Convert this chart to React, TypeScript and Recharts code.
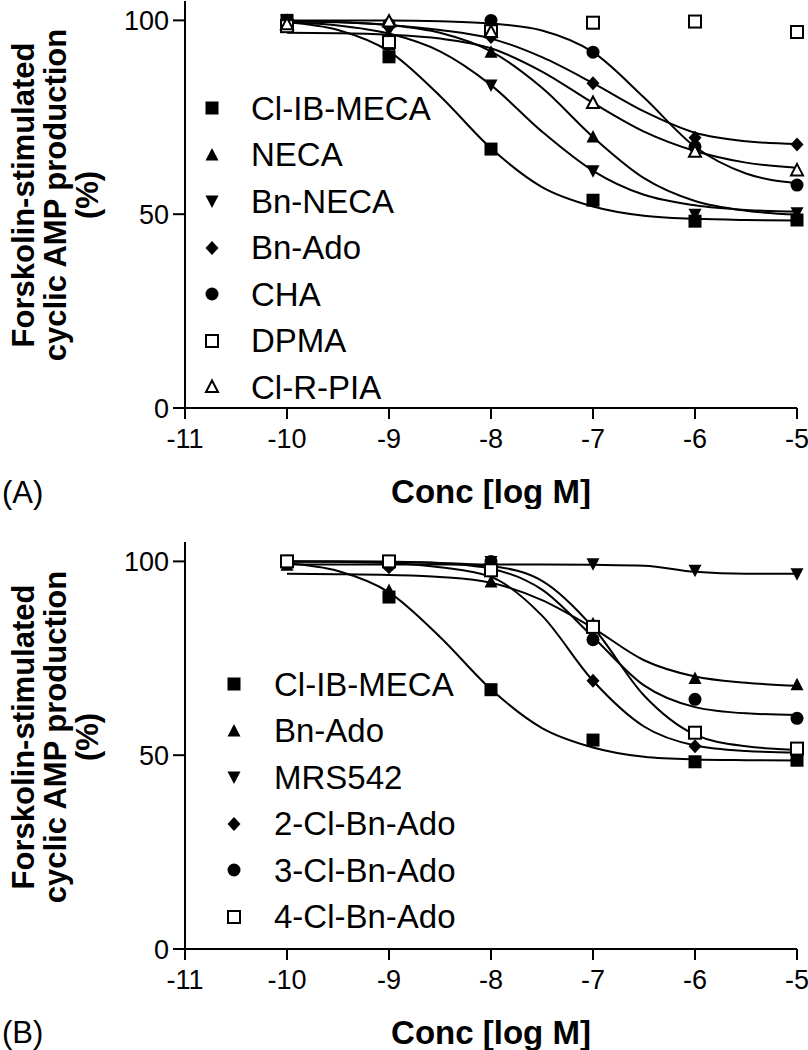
import React from "react";
import { ComposedChart, Line, Scatter, XAxis, YAxis, Legend } from "recharts";

const FONT = '"Liberation Sans", Arial, Helvetica, sans-serif';

const conc = [-10, -9, -8, -7, -6, -5];
const fitConc = [-10, -9.5, -9, -8.5, -8, -7.5, -7, -6.5, -6, -5.5, -5];
const xTicks = [-11, -10, -9, -8, -7, -6, -5];
const yTicks = [0, 50, 100];

// (A) measured points, % of forskolin response
const clIbMecaA = [100, 90.6, 66.8, 53.6, 48.2, 48.5];
const necaA = [100, 93.7, 91.8, 69.9, 49.5, 49.3];
const bnNecaA = [100, 97.5, 83.3, 61.2, 50.0, 50.4];
const bnAdoA = [100, 98.3, 95.7, 83.8, 69.7, 68.0];
const chaA = [100, 99.0, 100, 91.8, 67.4, 57.5];
const dpmaA = [98.5, 94.4, 97.2, 99.4, 99.7, 97.0];
const clRPiaA = [99.0, 99.7, 97.0, 78.7, 66.1, 61.3];

const clIbMecaFitA = [99.5, 97.5, 92, 80.5, 67, 57, 52, 49.6, 48.8, 48.5, 48.4];
const necaFitA = [99.9, 99.6, 98.8, 96.8, 92, 82.6, 69.9, 59.3, 53.4, 50.9, 49.9];
const bnNecaFitA = [99.5, 98.7, 96.6, 92, 83.3, 71.3, 61.2, 55, 52.3, 51.1, 50.7];
const bnAdoFitA = [99.8, 99.5, 98.8, 97.5, 95.3, 90.5, 83.8, 76.5, 71, 68.8, 68.1];
const chaFitA = [100, 100, 100, 99.8, 99.2, 97.4, 91.8, 80.1, 67.4, 60.5, 58];
const clRPiaFitA = [96.8, 96.7, 96.3, 95.3, 92.8, 86.8, 78.7, 71.3, 66.3, 63.3, 62];

// (B) measured points
const clIbMecaB = [100, 90.8, 66.9, 53.9, 48.3, 48.7];
const bnAdoB = [99, 92.5, 94.7, 83.9, 69.8, 68.2];
const mrs542B = [100, 99.0, 100, 99.4, 97.7, 96.8];
const cl2BnAdoB = [100, 98.5, 97.5, 69.2, 52.3, 50.4];
const cl3BnAdoB = [100, 99.0, 100, 79.8, 64.4, 59.5];
const cl4BnAdoB = [100, 100, 97.7, 83.1, 55.8, 51.7];

// (B) fitted curves
const clIbMecaFitB = [99.5, 97.5, 92, 80.5, 67, 57, 52, 49.6, 48.9, 48.7, 48.6];
const bnAdoFitB = [96.8, 96.7, 96.5, 96, 94.5, 90, 82.8, 74.5, 70.3, 68.7, 67.9];
const mrs542FitB = [99.2, 99.2, 99.2, 99.2, 99.2, 99.2, 99.1, 98.9, 97.3, 96.8, 96.8];
const cl2BnAdoFitB = [100, 99.9, 99.6, 98.5, 96, 86, 69.2, 57.4, 52.5, 51.1, 50.7];
const cl3BnAdoFitB = [100, 100, 99.9, 99.5, 98.1, 92.7, 80.5, 68, 62.4, 60.8, 60.4];
const cl4BnAdoFitB = [100, 100, 99.9, 99.6, 98.8, 95, 83, 65.4, 55.3, 52.3, 51.4];

type Kind =
  | "square"
  | "triangle"
  | "triangleDown"
  | "diamond"
  | "circle"
  | "openSquare"
  | "openTriangle";

type Series = { name: string; kind: Kind; pts: number[]; fit: number[] | null };

const seriesA: Series[] = [
  { name: "Cl-IB-MECA", kind: "square", pts: clIbMecaA, fit: clIbMecaFitA },
  { name: "NECA", kind: "triangle", pts: necaA, fit: necaFitA },
  { name: "Bn-NECA", kind: "triangleDown", pts: bnNecaA, fit: bnNecaFitA },
  { name: "Bn-Ado", kind: "diamond", pts: bnAdoA, fit: bnAdoFitA },
  { name: "CHA", kind: "circle", pts: chaA, fit: chaFitA },
  { name: "DPMA", kind: "openSquare", pts: dpmaA, fit: null },
  { name: "Cl-R-PIA", kind: "openTriangle", pts: clRPiaA, fit: clRPiaFitA },
];

const seriesB: Series[] = [
  { name: "Cl-IB-MECA", kind: "square", pts: clIbMecaB, fit: clIbMecaFitB },
  { name: "Bn-Ado", kind: "triangle", pts: bnAdoB, fit: bnAdoFitB },
  { name: "MRS542", kind: "triangleDown", pts: mrs542B, fit: mrs542FitB },
  { name: "2-Cl-Bn-Ado", kind: "diamond", pts: cl2BnAdoB, fit: cl2BnAdoFitB },
  { name: "3-Cl-Bn-Ado", kind: "circle", pts: cl3BnAdoB, fit: cl3BnAdoFitB },
  { name: "4-Cl-Bn-Ado", kind: "openSquare", pts: cl4BnAdoB, fit: cl4BnAdoFitB },
];

const PLOT_H = 407;

function Marker({ cx, cy, kind }: { cx?: number; cy?: number; kind: Kind }) {
  if (cx == null || cy == null) return null;
  switch (kind) {
    case "square":
      return <rect x={cx - 6.5} y={cy - 6.5} width={13} height={13} fill="#000" />;
    case "openSquare":
      return (
        <rect x={cx - 6} y={cy - 6} width={12} height={12} fill="#fff" stroke="#000" strokeWidth={2} />
      );
    case "triangle":
      return <polygon points={`${cx},${cy - 7} ${cx + 6.5},${cy + 5.5} ${cx - 6.5},${cy + 5.5}`} fill="#000" />;
    case "triangleDown":
      return <polygon points={`${cx},${cy + 7} ${cx + 6.5},${cy - 5.5} ${cx - 6.5},${cy - 5.5}`} fill="#000" />;
    case "openTriangle":
      return (
        <polygon
          points={`${cx},${cy - 6.5} ${cx + 6},${cy + 5} ${cx - 6},${cy + 5}`}
          fill="#fff"
          stroke="#000"
          strokeWidth={2}
        />
      );
    case "diamond":
      return <polygon points={`${cx},${cy - 7} ${cx + 6.5},${cy} ${cx},${cy + 7} ${cx - 6.5},${cy}`} fill="#000" />;
    case "circle":
      return <circle cx={cx} cy={cy} r={6.5} fill="#000" />;
  }
  return null;
}

function LegendBox({ series, gap }: { series: Series[]; gap: number }) {
  return (
    <div style={{ fontFamily: FONT }}>
      {series.map((s) => (
        <div key={s.name} style={{ display: "flex", alignItems: "center", height: 46.5 }}>
          <svg width={24} height={24}>
            <Marker cx={12} cy={12} kind={s.kind} />
          </svg>
          <span style={{ marginLeft: gap, fontSize: 33, lineHeight: 1, color: "#000" }}>{s.name}</span>
        </div>
      ))}
    </div>
  );
}

function Panel({
  series,
  height,
  top,
  legendLeft,
  legendTop,
  gap,
}: {
  series: Series[];
  height: number;
  top: number;
  legendLeft: number;
  legendTop: number;
  gap: number;
}) {
  const axisY = top + PLOT_H;
  return (
    <ComposedChart
      width={808}
      height={height}
      margin={{ top, right: 11, bottom: 0, left: 0 }}
      style={{ fontFamily: FONT }}
    >
      <XAxis
        dataKey="x"
        type="number"
        domain={[-11, -5]}
        ticks={xTicks}
        interval={0}
        height={height - axisY}
        stroke="#000"
        strokeWidth={2}
        tickSize={11}
        tick={(p: any) => (
          <text x={p.x} y={axisY + 40} textAnchor="middle" fontSize={27} fill="#000" fontFamily={FONT}>
            {p.payload.value}
          </text>
        )}
        label={{
          value: "Conc [log M]",
          position: "insideBottom",
          offset: 6,
          style: { fontSize: 33, fontWeight: 700, fill: "#000", fontFamily: FONT },
        }}
      />
      <YAxis
        dataKey="y"
        type="number"
        domain={[0, 105]}
        ticks={yTicks}
        interval={0}
        width={185}
        stroke="#000"
        strokeWidth={2}
        tickSize={12}
        tickMargin={4}
        tick={{ fill: "#000", fontSize: 27, fontFamily: FONT }}
      />
      <Legend
        layout="vertical"
        align="center"
        verticalAlign="middle"
        wrapperStyle={{ left: legendLeft, top: legendTop, width: 320 }}
        content={() => <LegendBox series={series} gap={gap} />}
      />
      {series
        .filter((s) => s.fit)
        .map((s) => (
          <Line
            key={"fit-" + s.name}
            data={fitConc.map((x, i) => ({ x, y: (s.fit as number[])[i] }))}
            dataKey="y"
            type="monotone"
            stroke="#000"
            strokeWidth={2}
            dot={false}
            activeDot={false}
            legendType="none"
            isAnimationActive={false}
          />
        ))}
      {series.map((s) => (
        <Scatter
          key={"pts-" + s.name}
          name={s.name}
          data={conc.map((x, i) => ({ x, y: s.pts[i] }))}
          dataKey="y"
          isAnimationActive={false}
          shape={(p: any) => <Marker cx={p.cx} cy={p.cy} kind={s.kind} />}
        />
      ))}
    </ComposedChart>
  );
}

function YTitle({ cy }: { cy: number }) {
  return (
    <div
      style={{
        position: "absolute",
        left: 56 - 200,
        top: cy - 48,
        width: 400,
        height: 96,
        lineHeight: "32px",
        fontSize: 31,
        fontWeight: 700,
        textAlign: "center",
        transform: "rotate(-90deg)",
        fontFamily: FONT,
        color: "#000",
      }}
    >
      Forskolin-stimulated
      <br />
      cyclic AMP production
      <br />
      (%)
    </div>
  );
}

export default function App() {
  return (
    <div
      style={{
        position: "absolute",
        left: 0,
        top: 0,
        width: 808,
        height: 1050,
        background: "#fff",
        fontFamily: FONT,
        overflow: "hidden",
      }}
    >
      <div style={{ position: "absolute", left: 0, top: 0 }}>
        <Panel series={seriesA} height={509} top={1} legendLeft={200} legendTop={84.75} gap={27} />
      </div>
      <div style={{ position: "absolute", left: 0, top: 530 }}>
        <Panel series={seriesB} height={520} top={12} legendLeft={222} legendTop={130.75} gap={28} />
      </div>
      <YTitle cy={195} />
      <YTitle cy={737} />
      <div style={{ position: "absolute", left: 2, top: 477, fontSize: 31, lineHeight: "32px" }}>(A)</div>
      <div style={{ position: "absolute", left: 2, top: 1017, fontSize: 31, lineHeight: "32px" }}>(B)</div>
    </div>
  );
}
